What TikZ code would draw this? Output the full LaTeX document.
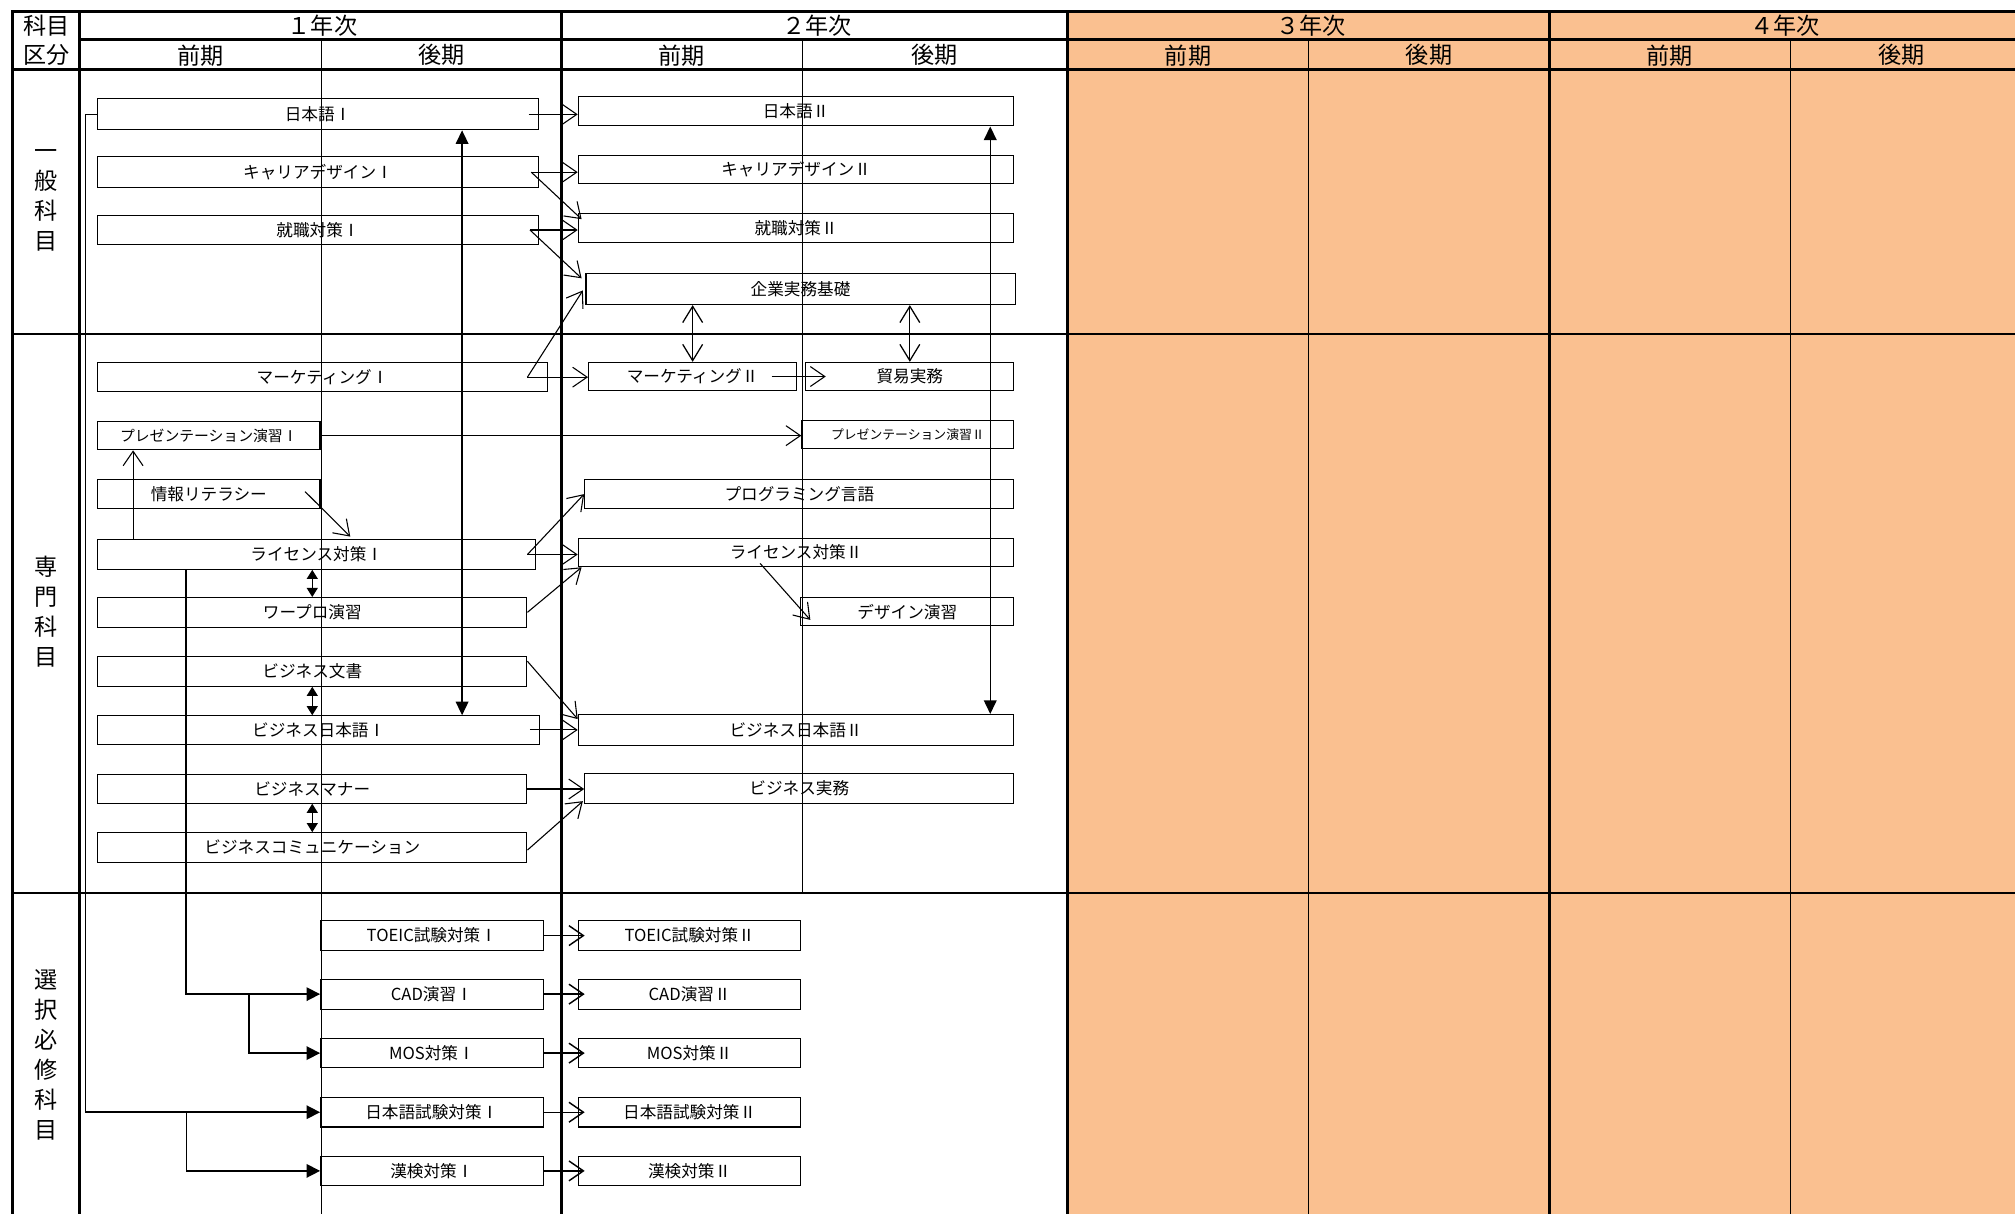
\documentclass[tikz,border=0pt]{standalone}
\usepackage{fontspec}
\setmainfont{Noto Sans CJK JP}
\usetikzlibrary{arrows.meta,fit,calc}
\definecolor{orange}{HTML}{FAC090}

\tikzset{
    fach/.style={draw, line width=0.6pt, inner sep=0pt},
    every label/.style={font=\fontsize{9.2}{11}\selectfont, inner sep=0pt},
    kopf/.style={font=\fontsize{12.8}{16.6}\selectfont, align=center},
    dick/.style={line width=1.6pt},
    duenn/.style={line width=0.4pt},
    pfeil/.style={-{Straight Barb[length=8pt,width=11pt]}, line width=0.6pt},
    doppel/.style={{Straight Barb[length=9pt,width=11pt]}-{Straight Barb[length=9pt,width=11pt]}, line width=0.7pt},
    voll/.style={{Triangle[length=7.5pt,width=7pt]}-{Triangle[length=7.5pt,width=7pt]}, line width=0.8pt},
    vollklein/.style={{Triangle[length=5pt,width=6pt]}-{Triangle[length=5pt,width=6pt]}, line width=0.8pt},
    strich/.style={-{Triangle[length=7.5pt,width=7.5pt]}, line width=0.9pt}
}

\begin{document}
\begin{tikzpicture}[x=0.025cm, y=-0.025cm]
        \useasboundingbox (0,0) rectangle (1568,944);
        \clip (0,0) rectangle (1568,944);

        % Hintergrund 3./4. Jahr
        \fill[orange] (831,9) rectangle (1600,960);

        % Tabelle
        \draw[dick] (10,960) -- (10,9) -- (1600,9); % Rand oben und links
        \draw[dick] (62,9) -- (62,960);
        \draw[dick] (62,31) -- (1600,31);
        \draw[dick] (10,54) -- (1600,54);
        \draw[line width=0.7pt] (10,260) -- (1600,260) (10,695) -- (1600,695); % Bereiche
        \draw[dick] (437,9) -- (437,960) (831,9) -- (831,960) (1206,9) -- (1206,960); % Jahre
        \draw[duenn] (250,31) -- (250,960) (624,31) -- (624,695)
            (1018,31) -- (1018,960) (1393,31) -- (1393,960); % Semester

        % Kopfzeilen
        \node[kopf] at (36,20) {科目};
        \node[kopf] at (36,43) {区分};
        \node[kopf] at (251,20) {１年次};
        \node[kopf] at (636,20) {２年次};
        \node[kopf] at (1020,20) {３年次};
        \node[kopf] at (1389,20) {４年次};
        \node[kopf] at (156,43) {前期};
        \node[kopf] at (343.5,43) {後期};
        \node[kopf] at (530.5,43) {前期};
        \node[kopf] at (727.5,43) {後期};
        \node[kopf] at (924.5,43) {前期};
        \node[kopf] at (1112,43) {後期};
        \node[kopf] at (1299.5,43) {前期};
        \node[kopf] at (1480,43) {後期};

        % Bereiche (senkrecht)
        \node[kopf] at (36,156) {一\\般\\科\\目};
        \node[kopf] at (36,476) {専\\門\\科\\目};
        \node[kopf] at (36,821) {選\\択\\必\\修\\科\\目};

        % Faecher: allgemein
        \node[fach, fit={(76,77) (419,101)}, label={center:日本語Ⅰ}] (jp1) {};
        \node[fach, fit={(450,75) (789,98)}, label={center:日本語Ⅱ}] (jp2) {};
        \node[fach, fit={(76,122) (419,146)}, label={center:キャリアデザインⅠ}] (car1) {};
        \node[fach, fit={(450,121) (789,143)}, label={center:キャリアデザインⅡ}] (car2) {};
        \node[fach, fit={(76,168) (419,190)}, label={center:就職対策Ⅰ}] (shu1) {};
        \node[fach, fit={(450,166) (789,189)}, label={center:就職対策Ⅱ}] (shu2) {};
        \node[fach, fit={(456,213) (790,237)}, label={center:企業実務基礎}] (kig) {};

        % Faecher: Fach
        \node[fach, fit={(76,282) (426,305)}, label={center:マーケティングⅠ}] (mk1) {};
        \node[fach, fit={(458,282) (620,304)}, label={center:マーケティングⅡ}] (mk2) {};
        \node[fach, fit={(627,282) (789,304)}, label={center:貿易実務}] (boe) {};
        \node[fach, fit={(76,328) (249,350)}, label={[font=\fontsize{8.2}{10}\selectfont]center:プレゼンテーション演習Ⅰ}] (pre1) {};
        \node[fach, fit={(624,327) (789,349)}, label={[font=\fontsize{7.1}{9}\selectfont]center:プレゼンテーション演習Ⅱ}] (pre2) {};
        \node[fach, fit={(76,373) (249,396)}, label={center:情報リテラシー}] (joho) {};
        \node[fach, fit={(455,373) (789,396)}, label={center:プログラミング言語}] (prog) {};
        \node[fach, fit={(76,420) (417,443)}, label={center:ライセンス対策Ⅰ}] (lic1) {};
        \node[fach, fit={(450,419) (789,441)}, label={center:ライセンス対策Ⅱ}] (lic2) {};
        \node[fach, fit={(76,465) (410,488)}, label={center:ワープロ演習}] (wap) {};
        \node[fach, fit={(623,465) (789,487)}, label={center:デザイン演習}] (des) {};
        \node[fach, fit={(76,511) (410,534)}, label={center:ビジネス文書}] (bun) {};
        \node[fach, fit={(76,557) (420,579)}, label={center:ビジネス日本語Ⅰ}] (bjp1) {};
        \node[fach, fit={(450,556) (789,580)}, label={center:ビジネス日本語Ⅱ}] (bjp2) {};
        \node[fach, fit={(76,603) (410,625)}, label={center:ビジネスマナー}] (man) {};
        \node[fach, fit={(455,602) (789,625)}, label={center:ビジネス実務}] (jit) {};
        \node[fach, fit={(76,648) (410,671)}, label={center:ビジネスコミュニケーション}] (com) {};

        % Faecher: Wahlpflicht
        \node[fach, fit={(249.5,716.5) (422.6,739.6)}, label={center:TOEIC試験対策Ⅰ}] (toe1) {};
        \node[fach, fit={(450.4,716.5) (622.9,739.6)}, label={center:TOEIC試験対策Ⅱ}] (toe2) {};
        \node[fach, fit={(249.5,762) (422.6,785.2)}, label={center:CAD演習Ⅰ}] (cad1) {};
        \node[fach, fit={(450.4,762) (622.9,785.2)}, label={center:CAD演習Ⅱ}] (cad2) {};
        \node[fach, fit={(249.5,808) (422.6,831)}, label={center:MOS対策Ⅰ}] (mos1) {};
        \node[fach, fit={(450.4,808) (622.9,831)}, label={center:MOS対策Ⅱ}] (mos2) {};
        \node[fach, fit={(249.5,854) (422.6,877)}, label={center:日本語試験対策Ⅰ}] (jpt1) {};
        \node[fach, fit={(450.4,854) (622.9,877)}, label={center:日本語試験対策Ⅱ}] (jpt2) {};
        \node[fach, fit={(249.5,899.6) (422.6,922.7)}, label={center:漢検対策Ⅰ}] (kan1) {};
        \node[fach, fit={(450.4,899.6) (622.9,922.7)}, label={center:漢検対策Ⅱ}] (kan2) {};

        % Pfeile allgemein
        \draw[pfeil] ($(jp1.east)+(-8,0)$) -- (jp1.east -| jp2.west);
        \draw[pfeil] ($(car1.east)+(-6,0)$) -- (car1.east -| car2.west);
        \draw[pfeil] ($(car1.east)+(-6,0)$) -- ($(shu2.north west)+(3,5)$);
        \draw[pfeil] ($(shu1.east)+(-7,0)$) -- (shu1.east -| shu2.west);
        \draw[pfeil] ($(shu1.east)+(-7,0)$) -- ($(kig.north west)+(-3,4)$);
        \draw[doppel] (kig.south -| mk2.north) -- (mk2.north);
        \draw[doppel] (kig.south -| boe.north) -- (boe.north);
        \draw[voll] ($(jp1.south west)+(284,0)$) -- ($(bjp1.north west)+(284,0)$);
        \draw[voll] ($(jp2.south west)+(321,0)$) -- ($(bjp2.north west)+(321,0)$);

        % Pfeile Fach
        \draw[pfeil] ($(mk1.east)+(-16,0)$) -- ($(kig.west)+(-2,1)$);
        \draw[pfeil] ($(mk1.east)+(-16,0)$) -- (mk1.east -| mk2.west);
        \draw[pfeil] ($(mk2.east)+(-20,0)$) -- ($(mk2.east -| boe.west)+(16,0)$);
        \draw[pfeil] (pre1.east) -- (pre1.east -| pre2.west);
        \draw[pfeil] ($(joho.north east)+(-12,10)$) -- ($(lic1.north west)+(197,-2)$);
        \draw[pfeil] ($(lic1.north west)+(28,0)$) -- ($(pre1.south west)+(28,0)$);
        \draw[pfeil] ($(lic1.east)+(-7,0)$) -- (prog.west);
        \draw[pfeil] ($(lic1.east)+(-7,0)$) -- (lic1.east -| lic2.west);
        \draw[pfeil] (wap.east) -- ($(lic2.south west)+(3,0)$);
        \draw[pfeil] ($(lic2.south)+(-28,-3)$) -- ($(des.south west)+(8,-5)$);
        \draw[vollklein] (wap.north |- lic1.south) -- (wap.north);
        \draw[pfeil] ($(bun.north east)+(0,4)$) -- ($(bjp2.north west)+(0,4)$);
        \draw[vollklein] (bun.south) -- (bun.south |- bjp1.north);
        \draw[pfeil] ($(bjp1.east)+(-8,0)$) -- (bjp1.east -| bjp2.west);
        \draw[pfeil] (man.east) -- (man.east -| jit.west);
        \draw[vollklein] (man.south) -- (man.south |- com.north);
        \draw[pfeil] ($(com.east)+(0,2)$) -- ($(jit.south west)+(-1,-2)$);

        % Pfeile Wahlpflicht
        \coordinate (abzweigA) at (194,773.6);
        \coordinate (abzweigB) at (145,865.5);
        \draw[strich] ($(lic1.south west)+(69,0)$) |- (cad1.west);
        \draw[strich] (abzweigA) |- (mos1.west);
        \draw[strich] (jp1.west) -- ++(-9,0) |- (jpt1.west);
        \draw[strich] (abzweigB) |- (kan1.west);
        \draw[pfeil, line width=0.8pt] (toe1.east) -- ($(toe1.east -| toe2.west)+(5,0)$);
        \draw[pfeil, line width=0.8pt] (cad1.east) -- ($(cad1.east -| cad2.west)+(5,0)$);
        \draw[pfeil, line width=0.8pt] (mos1.east) -- ($(mos1.east -| mos2.west)+(5,0)$);
        \draw[pfeil, line width=0.8pt] (jpt1.east) -- ($(jpt1.east -| jpt2.west)+(5,0)$);
        \draw[pfeil, line width=0.8pt] (kan1.east) -- ($(kan1.east -| kan2.west)+(5,0)$);

    \end{tikzpicture}
\end{document}
